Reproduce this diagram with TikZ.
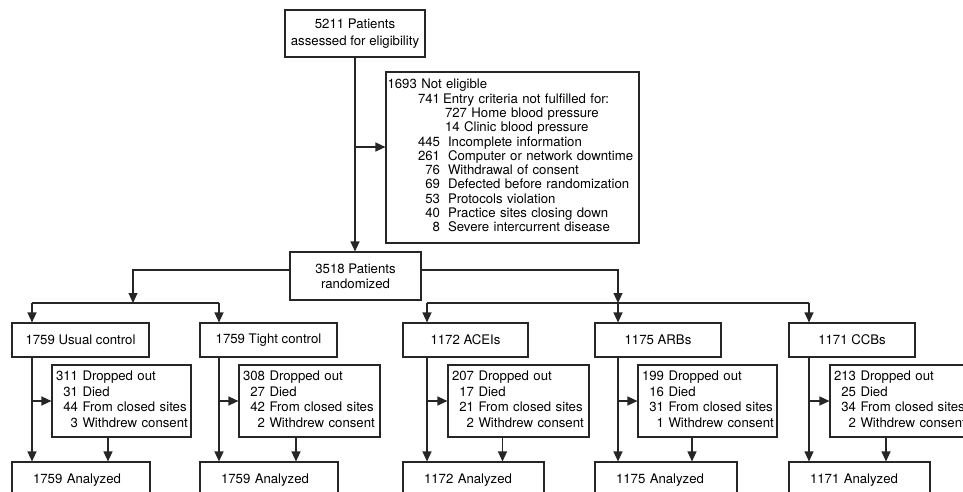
\documentclass[tikz,border=0pt]{standalone}
\usepackage{fontspec}
\setmainfont{TeX Gyre Heros}
\usetikzlibrary{arrows.meta, positioning}

\begin{document}
\begin{tikzpicture}[x=1pt, y=-1pt,
  box/.style={draw=black!85, line width=1.1pt, inner sep=0pt, text=black,
    minimum height=34pt, font=\fontsize{13.2}{15.5}\selectfont},
  armbox/.style={box, align=center},
  dropbox/.style={box, minimum height=72pt, align=left, inner xsep=4pt,
    font=\fontsize{13.2}{15.7}\selectfont},
  anabox/.style={box, minimum height=36pt, align=left, inner xsep=21pt},
  arr/.style={-{Triangle[length=10pt, width=9pt]}, line width=1.1pt, draw=black!85},
  link/.style={line width=1.1pt, draw=black!85}]
\useasboundingbox (0,0) rectangle (963,492);
\clip (0,0) rectangle (963,492);
\node[box, minimum width=140pt, minimum height=47pt, align=center,
  font=\fontsize{13.2}{16.5}\selectfont] (screen) at (355,33.5)
  {5211 Patients\\assessed for eligibility};
\node[box, text width=250pt, inner xsep=1.5pt, minimum height=171pt, align=left,
  font=\fontsize{13.2}{14.3}\selectfont] (excl) at (512.5,157.5)
  {\begin{tabular}{@{\hspace{30.5pt}}r@{\hspace{8pt}}l@{}}
  \multicolumn{2}{@{}l@{}}{1693 Not eligible}\\
  741 & \hspace{-5pt}Entry criteria not fulfilled for:\\
      & \hspace{-3pt}727 Home blood pressure\\
      & \hspace{-3pt}14 Clinic blood pressure\\
  445 & Incomplete information\\
  261 & Computer or network downtime\\
  76 & Withdrawal of consent\\
  69 & Defected before randomization\\
  53 & Protocols violation\\
  40 & Practice sites closing down\\
  8 & Severe intercurrent disease
  \end{tabular}};
\node[box, minimum width=131pt, minimum height=48pt, align=center,
  font=\fontsize{13.2}{15}\selectfont] (rand) at (355.5,276)
  {3518 Patients\\randomized};
\node[armbox, minimum width=137pt] (uc) at (80.5,340) {1759 Usual control};
\node[armbox, minimum width=137pt] (tc) at (268.5,340) {1759 Tight control};
\node[armbox, minimum width=125pt] (ac) at (465.5,340) {1172 ACEIs};
\node[armbox, minimum width=126pt] (ar) at (658,340) {1175 ARBs};
\node[armbox, minimum width=126pt] (cc) at (852,340) {1171 CCBs};
\node[dropbox, text width=131pt] (ucd) at (121.5,401)
  {\begin{tabular}{@{}r@{\hspace{4.5pt}}l@{}}311 & Dropped out\\31 & Died\\44 & From closed sites\\3 & Withdrew consent\end{tabular}};
\node[dropbox, text width=133pt] (tcd) at (309.5,401)
  {\begin{tabular}{@{}r@{\hspace{4.5pt}}l@{}}308 & Dropped out\\27 & Died\\42 & From closed sites\\2 & Withdrew consent\end{tabular}};
\node[dropbox, text width=133pt] (acd) at (518.5,401)
  {\begin{tabular}{@{}r@{\hspace{4.5pt}}l@{}}207 & Dropped out\\17 & Died\\21 & From closed sites\\2 & Withdrew consent\end{tabular}};
\node[dropbox, text width=131pt] (ard) at (707.5,401)
  {\begin{tabular}{@{}r@{\hspace{4.5pt}}l@{}}199 & Dropped out\\16 & Died\\31 & From closed sites\\1 & Withdrew consent\end{tabular}};
\node[dropbox, text width=133pt] (ccd) at (900.5,401)
  {\begin{tabular}{@{}r@{\hspace{4.5pt}}l@{}}213 & Dropped out\\25 & Died\\34 & From closed sites\\2 & Withdrew consent\end{tabular}};
\node[anabox, text width=96pt] (uca) at (81,480) {1759 Analyzed};
\node[anabox, text width=96pt] (tca) at (269,480) {1759 Analyzed};
\node[anabox, text width=99pt] (aca) at (473.5,480) {1172 Analyzed};
\node[anabox, text width=100pt] (ara) at (666,480) {1175 Analyzed};
\node[anabox, text width=99pt] (cca) at (859.5,480) {1171 Analyzed};
\coordinate (splitL) at (133,303);
\coordinate (ucin) at (32,303);
\coordinate (tcin) at (219,303);
\coordinate (acin) at (427,303);
\coordinate (arin) at (618,303);
\coordinate (ccin) at (809,303);
\coordinate (exclin) at ([yshift=10.5pt]excl.west);
\coordinate (ucout) at ([xshift=-13.5pt]ucd.south);
\coordinate (tcout) at ([xshift=-13.5pt]tcd.south);
\coordinate (acout) at ([xshift=-16pt]acd.south);
\coordinate (arout) at ([xshift=-15.5pt]ard.south);
\coordinate (ccout) at ([xshift=-14.5pt]ccd.south);
\draw[arr] (screen.south |- screen.south) -- (screen.south |- rand.north);
\draw[arr] (screen.south |- exclin) -- (exclin);
\draw[arr] ([yshift=6pt]rand.west) -| (splitL);
\draw[arr] ([yshift=6pt]rand.east) -| (arin);
\draw[link] (ucin) -- (tcin);
\draw[link] (acin) -- (ccin);
\draw[arr] (ucin) -- (ucin |- uc.north);
\draw[arr] (tcin) -- (tcin |- tc.north);
\draw[arr] (acin) -- (acin |- ac.north);
\draw[arr] (arin) -- (arin |- ar.north);
\draw[arr] (ccin) -- (ccin |- cc.north);
\draw[arr] (ucin |- uc.south) -- (ucin |- uca.north);
\draw[arr] (tcin |- tc.south) -- (tcin |- tca.north);
\draw[arr] (acin |- ac.south) -- (acin |- aca.north);
\draw[arr] (arin |- ar.south) -- (arin |- ara.north);
\draw[arr] (ccin |- cc.south) -- (ccin |- cca.north);
\draw[arr] (ucin |- ucd.west) -- (ucd.west);
\draw[arr] (tcin |- tcd.west) -- (tcd.west);
\draw[arr] (acin |- acd.west) -- (acd.west);
\draw[arr] (arin |- ard.west) -- (ard.west);
\draw[arr] (ccin |- ccd.west) -- (ccd.west);
\draw[arr] (ucout) -- (ucout |- uca.north);
\draw[arr] (tcout) -- (tcout |- tca.north);
\draw[arr] (acout) -- (acout |- aca.north);
\draw[arr] (arout) -- (arout |- ara.north);
\draw[arr] (ccout) -- (ccout |- cca.north);
\end{tikzpicture}
\end{document}
